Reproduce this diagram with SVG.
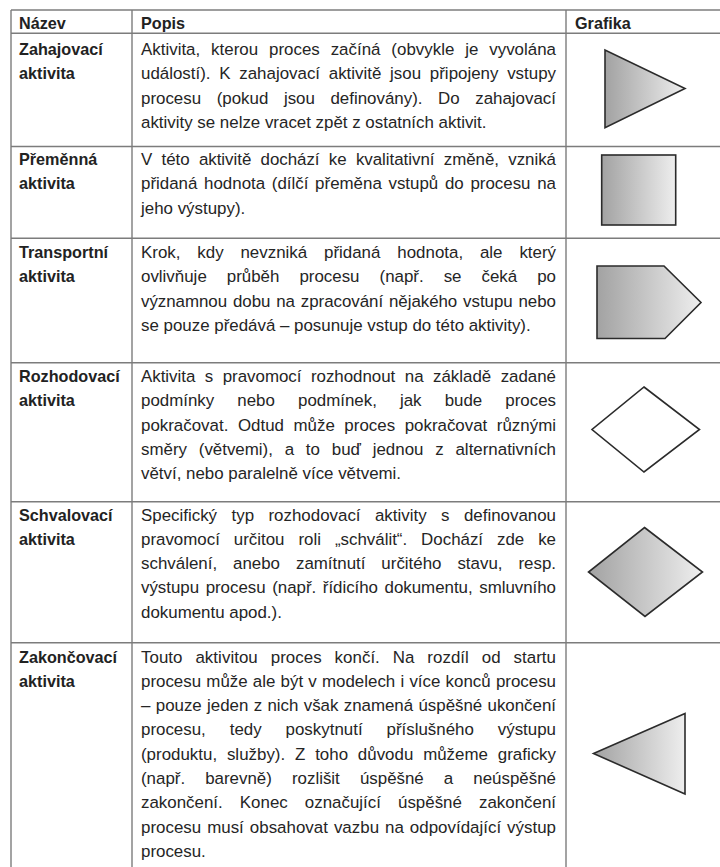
<svg xmlns="http://www.w3.org/2000/svg" width="720" height="867" viewBox="0 0 720 867">
  <style>
    .grid { stroke: #7c7c7c; stroke-width: 1.4; fill: none; }
    .hd { font-family: "Liberation Sans", Arial, sans-serif; font-weight: bold; font-size: 16.2px; fill: #222; }
    .nm { font-family: "Liberation Sans", Arial, sans-serif; font-weight: bold; font-size: 16.2px; fill: #222; }
    .tx { font-family: "Liberation Sans", Arial, sans-serif; font-size: 16.9px; fill: #252525; }
    .shape { stroke: #2b2b2b; stroke-width: 1.6; stroke-linejoin: miter; }
    .grad { fill: url(#shade); }
    .blank { fill: #ffffff; }
  </style>
  <defs>
    <linearGradient id="shade" x1="0" y1="0" x2="1" y2="0">
      <stop offset="0" stop-color="#a2a2a2"/>
      <stop offset="1" stop-color="#eeeeee"/>
    </linearGradient>
  </defs>

  <rect width="720" height="867" fill="#ffffff"/>

  <!-- table grid -->
  <g id="grid" class="grid">
    <line x1="11" y1="10" x2="720" y2="10"/>
    <line x1="11" y1="33.3" x2="720" y2="33.3"/>
    <line x1="11" y1="146.5" x2="720" y2="146.5"/>
    <line x1="11" y1="238.3" x2="720" y2="238.3"/>
    <line x1="11" y1="362.7" x2="720" y2="362.7"/>
    <line x1="11" y1="501.7" x2="720" y2="501.7"/>
    <line x1="11" y1="642.7" x2="720" y2="642.7"/>
    <line x1="11" y1="10" x2="11" y2="867"/>
    <line x1="132" y1="10" x2="132" y2="867"/>
    <line x1="566" y1="10" x2="566" y2="867"/>
  </g>

  <!-- header row -->
  <g id="header">
    <text class="hd" x="19" y="29">Název</text>
    <text class="hd" x="141" y="29">Popis</text>
    <text class="hd" x="575" y="29">Grafika</text>
  </g>

  <!-- start activity -->
  <g id="zahajovaci">
    <text class="nm" x="19" y="55">Zahajovací</text>
    <text class="nm" x="19" y="79.3">aktivita</text>
    <text class="tx" x="141" y="55" word-spacing="6.2" textLength="415" lengthAdjust="spacing">Aktivita, kterou proces začíná (obvykle je vyvolána</text>
    <text class="tx" x="141" y="79.3" word-spacing="4.05" textLength="415" lengthAdjust="spacing">událostí). K zahajovací aktivitě jsou připojeny vstupy</text>
    <text class="tx" x="141" y="103.6" word-spacing="10.86" textLength="415" lengthAdjust="spacing">procesu (pokud jsou definovány). Do zahajovací</text>
    <text class="tx" x="141" y="127.9">aktivity se nelze vracet zpět z ostatních aktivit.</text>
    <polygon class="shape grad" points="605,50 605,127.7 685,88.5"/>
  </g>

  <!-- transformation activity -->
  <g id="premenna">
    <text class="nm" x="19" y="165">Přeměnná</text>
    <text class="nm" x="19" y="189.3">aktivita</text>
    <text class="tx" x="141" y="165" word-spacing="4.64" textLength="415" lengthAdjust="spacing">V této aktivitě dochází ke kvalitativní změně, vzniká</text>
    <text class="tx" x="141" y="189.3" word-spacing="1.98" textLength="415" lengthAdjust="spacing">přidaná hodnota (dílčí přeměna vstupů do procesu na</text>
    <text class="tx" x="141" y="213.6">jeho výstupy).</text>
    <rect class="shape grad" x="601.7" y="155" width="74" height="70"/>
  </g>

  <!-- transport activity -->
  <g id="transportni">
    <text class="nm" x="19" y="258">Transportní</text>
    <text class="nm" x="19" y="282.3">aktivita</text>
    <text class="tx" x="141" y="258" word-spacing="12.18" textLength="415" lengthAdjust="spacing">Krok, kdy nevzniká přidaná hodnota, ale který</text>
    <text class="tx" x="141" y="282.3" word-spacing="15.3" textLength="415" lengthAdjust="spacing">ovlivňuje průběh procesu (např. se čeká po</text>
    <text class="tx" x="141" y="306.6" word-spacing="1.2" textLength="415" lengthAdjust="spacing">významnou dobu na zpracování nějakého vstupu nebo</text>
    <text class="tx" x="141" y="330.9">se pouze předává – posunuje vstup do této aktivity).</text>
    <polygon class="shape grad" points="597,266 664,266 701,302.5 665,338.5 597,338.5"/>
  </g>

  <!-- decision activity -->
  <g id="rozhodovaci">
    <text class="nm" x="19" y="382">Rozhodovací</text>
    <text class="nm" x="19" y="406.3">aktivita</text>
    <text class="tx" x="141" y="382" word-spacing="4.82" textLength="415" lengthAdjust="spacing">Aktivita s pravomocí rozhodnout na základě zadané</text>
    <text class="tx" x="141" y="406.3" word-spacing="18.4" textLength="415" lengthAdjust="spacing">podmínky nebo podmínek, jak bude proces</text>
    <text class="tx" x="141" y="430.6" word-spacing="4.86" textLength="415" lengthAdjust="spacing">pokračovat. Odtud může proces pokračovat různými</text>
    <text class="tx" x="141" y="454.9" word-spacing="7.08" textLength="415" lengthAdjust="spacing">směry (větvemi), a to buď jednou z alternativních</text>
    <text class="tx" x="141" y="479.2">větví, nebo paralelně více větvemi.</text>
    <polygon class="shape blank" points="644,387 699.5,429.5 644,472 592,429.5"/>
  </g>

  <!-- approval activity -->
  <g id="schvalovaci">
    <text class="nm" x="19" y="520.5">Schvalovací</text>
    <text class="nm" x="19" y="544.8">aktivita</text>
    <text class="tx" x="141" y="520.5" word-spacing="9.74" textLength="415" lengthAdjust="spacing">Specifický typ rozhodovací aktivity s definovanou</text>
    <text class="tx" x="141" y="544.8" word-spacing="9.22" textLength="415" lengthAdjust="spacing">pravomocí určitou roli „schválit“. Dochází zde ke</text>
    <text class="tx" x="141" y="569.1" word-spacing="11.24" textLength="415" lengthAdjust="spacing">schválení, anebo zamítnutí určitého stavu, resp.</text>
    <text class="tx" x="141" y="593.4" word-spacing="2.0" textLength="415" lengthAdjust="spacing">výstupu procesu (např. řídicího dokumentu, smluvního</text>
    <text class="tx" x="141" y="617.7">dokumentu apod.).</text>
    <polygon class="shape grad" points="644.5,527.5 702.5,572 645,616.5 588.5,572"/>
  </g>

  <!-- end activity -->
  <g id="zakoncovaci">
    <text class="nm" x="19" y="662.5">Zakončovací</text>
    <text class="nm" x="19" y="686.8">aktivita</text>
    <text class="tx" x="141" y="662.5" word-spacing="8.16" textLength="415" lengthAdjust="spacing">Touto aktivitou proces končí. Na rozdíl od startu</text>
    <text class="tx" x="141" y="686.8" word-spacing="0.5" textLength="415" lengthAdjust="spacing">procesu může ale být v modelech i více konců procesu</text>
    <text class="tx" x="141" y="711.1" word-spacing="0.7" textLength="415" lengthAdjust="spacing">– pouze jeden z nich však znamená úspěšné ukončení</text>
    <text class="tx" x="141" y="735.4" word-spacing="19.2" textLength="415" lengthAdjust="spacing">procesu, tedy poskytnutí příslušného výstupu</text>
    <text class="tx" x="141" y="759.7" word-spacing="5.13" textLength="415" lengthAdjust="spacing">(produktu, služby). Z toho důvodu můžeme graficky</text>
    <text class="tx" x="141" y="784" word-spacing="15.37" textLength="415" lengthAdjust="spacing">(např. barevně) rozlišit úspěšné a neúspěšné</text>
    <text class="tx" x="141" y="808.3" word-spacing="12.4" textLength="415" lengthAdjust="spacing">zakončení. Konec označující úspěšné zakončení</text>
    <text class="tx" x="141" y="832.6" word-spacing="1.3" textLength="415" lengthAdjust="spacing">procesu musí obsahovat vazbu na odpovídající výstup</text>
    <text class="tx" x="141" y="856.9">procesu.</text>
    <polygon class="shape grad" points="685,713.5 685,794 593.5,753.5"/>
  </g>
</svg>
